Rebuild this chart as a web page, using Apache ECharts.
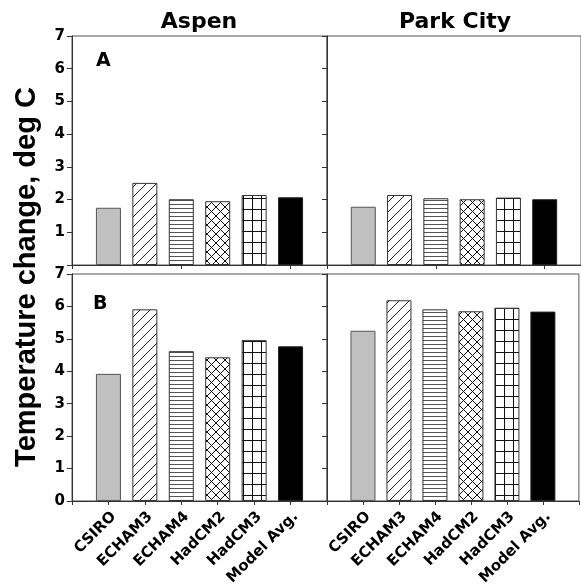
<!DOCTYPE html>
<html><head><meta charset="utf-8">
<script src="https://cdn.jsdelivr.net/npm/echarts@6/dist/echarts.min.js"></script>
<style>html,body{margin:0;padding:0;background:#fff}#c{width:581px;height:588px}</style>
</head><body><div id="c"></div>
<script>
// ---- data ----
const models = ['CSIRO', 'ECHAM3', 'ECHAM4', 'HadCM2', 'HadCM3', 'Model Avg.'];
const sites = ['Aspen', 'Park City'];
const panelLetters = ['A', 'B'];
const aspenA = [1.75, 2.51, 2.01, 1.95, 2.14, 2.07];
const parkCityA = [1.78, 2.14, 2.04, 2.01, 2.06, 2.01];
const aspenB = [3.92, 5.91, 4.62, 4.43, 4.96, 4.77];
const parkCityB = [5.25, 6.19, 5.91, 5.85, 5.96, 5.84];
const yTickLabels = ['0', '1', '2', '3', '4', '5', '6', '7'];
const yLabel = 'Temperature change, deg C';

// ---- patterns ----
function tile(w, h, draw) {
  const c = document.createElement('canvas');
  c.width = w; c.height = h;
  const g = c.getContext('2d');
  g.fillStyle = '#fff'; g.fillRect(0, 0, w, h);
  draw(g, w, h);
  return { image: c, repeat: 'repeat' };
}
const pDiag = tile(10, 10, (g, w, h) => {
  g.strokeStyle = '#222'; g.lineWidth = 1;
  g.beginPath();
  g.moveTo(-1, h + 1); g.lineTo(w + 1, -1);
  g.moveTo(-2, 2); g.lineTo(2, -2);
  g.moveTo(w - 2, h + 2); g.lineTo(w + 2, h - 2);
  g.stroke();
});
const pHoriz = tile(4, 4, (g, w) => {
  g.fillStyle = '#555'; g.fillRect(0, 0, w, 1);
});
const pCross = tile(9, 9, (g, w, h) => {
  g.strokeStyle = '#111'; g.lineWidth = 1;
  g.beginPath();
  g.moveTo(0, 0); g.lineTo(w, h);
  g.moveTo(0, h); g.lineTo(w, 0);
  g.stroke();
});
const pGrid = tile(9, 11, (g, w, h) => {
  g.fillStyle = '#111';
  g.fillRect(0, 0, 1, h);
  g.fillRect(0, 0, w, 1);
});
const fills = ['#c0c0c0', pDiag, pHoriz, pCross, pGrid, '#000'];
const borders = ['#555', '#333', '#333', '#333', '#333', '#222'];

const cats = [''].concat(models, ['']);
const panels = [
  { grid: { left: 72, top: 36, width: 255, height: 229 }, vals: aspenA, bottom: false, left: true },
  { grid: { left: 327, top: 36, width: 256, height: 229 }, vals: parkCityA, bottom: false, left: false },
  { grid: { left: 72, top: 274, width: 255, height: 229 }, vals: aspenB, bottom: true, left: true },
  { grid: { left: 327, top: 274, width: 256, height: 229 }, vals: parkCityB, bottom: true, left: false }
];
const font = 'DejaVu Sans, sans-serif';
const fontL = 'Liberation Sans, Arial, sans-serif';
const lineCol = '#333';
const grids = [], xAxes = [], yAxes = [], series = [];
panels.forEach((p, i) => {
  grids.push(Object.assign({ show: true, borderColor: '#555', borderWidth: 1, backgroundColor: 'transparent' }, p.grid));
  xAxes.push({
    type: 'category', gridIndex: i, data: cats, boundaryGap: false,
    axisLine: { show: true, lineStyle: { color: lineCol, width: 1 } },
    axisTick: { show: true, length: 4, inside: false, lineStyle: { color: lineCol } },
    axisLabel: p.bottom ? {
      show: true, interval: 0, rotate: 45, margin: 8, verticalAlign: 'top',
      fontFamily: font, fontWeight: 'bold', fontSize: 15, color: '#000'
    } : { show: false },
    splitLine: { show: false }
  });
  yAxes.push({
    type: 'value', gridIndex: i, min: 0, max: 7, interval: 1,
    axisLine: { show: p.left, lineStyle: { color: lineCol } },
    axisTick: { show: p.left, length: 5, inside: false, lineStyle: { color: lineCol } },
    axisLabel: p.left ? {
      show: true, margin: 7,
      fontFamily: font, fontWeight: 'bold', fontSize: 15, color: '#000',
      formatter: v => (!p.bottom && v === 0) ? '' : yTickLabels[v]
    } : { show: false },
    splitLine: { show: false }
  });
  if (p.left) {
    yAxes.push({
      type: 'value', gridIndex: i, min: 0, max: 7, interval: 1, position: 'right',
      axisLine: { show: true, lineStyle: { color: lineCol } },
      axisTick: { show: true, length: 5, inside: true, lineStyle: { color: lineCol } },
      axisLabel: { show: false }, splitLine: { show: false }
    });
  }
});
let yIdx = 0;
panels.forEach((p, i) => {
  const data = [null].concat(p.vals.map((v, k) => ({
    value: v,
    itemStyle: { color: fills[k], borderColor: borders[k], borderWidth: 1 }
  })), [null]);
  series.push({
    type: 'bar', xAxisIndex: i, yAxisIndex: yIdx, data: data, barWidth: 25,
    animation: false, silent: true
  });
  yIdx += p.left ? 2 : 1;
});

const graphic = [
  { type: 'text', x: 199, y: 11, style: { text: sites[0], font: 'bold 22px ' + font, fill: '#000', textAlign: 'center' } },
  { type: 'text', x: 455, y: 11, style: { text: sites[1], font: 'bold 22px ' + font, fill: '#000', textAlign: 'center' } },
  { type: 'text', x: 96, y: 52, style: { text: panelLetters[0], font: 'bold 19px ' + font, fill: '#000' } },
  { type: 'text', x: 93, y: 295, style: { text: panelLetters[1], font: 'bold 19px ' + font, fill: '#000' } },
  { type: 'text', x: 27, y: 277, rotation: Math.PI / 2,
    style: { text: yLabel, font: 'bold 29px ' + fontL, fill: '#000', textAlign: 'center', textVerticalAlign: 'middle' } }
];

const chart = echarts.init(document.getElementById('c'), null, { renderer: 'canvas' });
chart.setOption({
  animation: false,
  backgroundColor: '#fff',
  grid: grids, xAxis: xAxes, yAxis: yAxes, series: series, graphic: graphic
});
</script></body></html>
